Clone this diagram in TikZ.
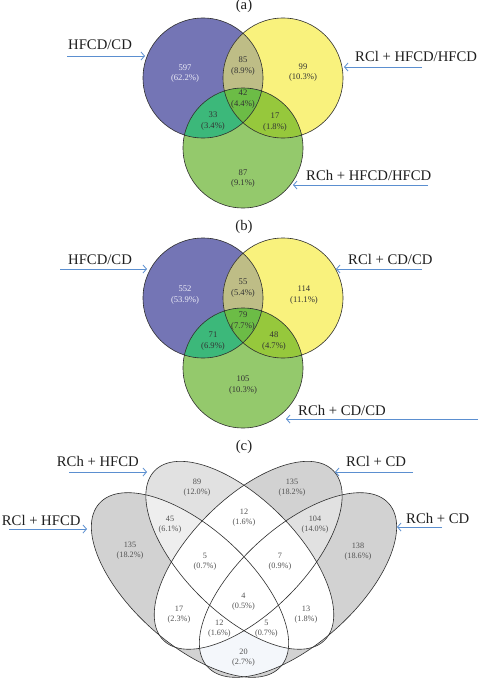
\documentclass[tikz,border=0pt]{standalone}
\usepackage{fontspec}
\setmainfont{Liberation Serif}
\usetikzlibrary{arrows.meta}
\definecolor{vblue}{HTML}{7475B5}
\definecolor{vyellow}{HTML}{F9F27D}
\definecolor{vgreen}{HTML}{94C96C}
\definecolor{vby}{HTML}{BEBD86}
\definecolor{vbg}{HTML}{3CB87A}
\definecolor{vyg}{HTML}{96C83C}
\definecolor{vbyg}{HTML}{6CBC46}
\definecolor{arrowblue}{HTML}{5B8FD0}
\definecolor{gdark}{HTML}{D2D2D2}
\definecolor{gmid}{HTML}{E1E1E1}
\definecolor{glight}{HTML}{EEEEEE}
\definecolor{gtint}{HTML}{F4F7FB}
\definecolor{numtext}{HTML}{333333}
\definecolor{numlight}{HTML}{EEEEF8}
\definecolor{edge}{HTML}{2E2E2E}

\tikzset{
  lbl/.style={font=\fontsize{14.7}{17}\selectfont, inner sep=0pt, text={black!88}},
  num/.style={font=\fontsize{8.6}{10.6}\selectfont, align=center, inner sep=0pt, text=numtext},
  numc/.style={font=\fontsize{8.2}{9.8}\selectfont, align=center, inner sep=0pt, text={black!68}},
  pointer/.style={draw=arrowblue, line width=0.8pt, -{Straight Barb[length=3.5pt,width=8pt]}},
  outline/.style={draw=edge, line width=0.6pt},
  rotA/.style={rotate around={-42:(190,585)}},
  rotB/.style={rotate around={-45:(239.8,555.3)}},
  rotC/.style={rotate around={45:(248.2,555.3)}},
  rotD/.style={rotate around={42:(298,585)}},
}
\newcommand{\PathEA}{(190,585) ellipse [x radius=122, y radius=58]}
\newcommand{\PathEB}{(239.8,555.3) ellipse [x radius=120, y radius=57]}
\newcommand{\PathEC}{(248.2,555.3) ellipse [x radius=120, y radius=57]}
\newcommand{\PathED}{(298,585) ellipse [x radius=122, y radius=58]}

\newcommand{\VennTri}[1]{%
  \fill[vblue] (#1B) circle[radius=60];
  \fill[vyellow] (#1Y) circle[radius=60];
  \fill[vgreen] (#1G) circle[radius=60];
  \begin{scope}
    \clip (#1Y) circle[radius=60];
    \fill[vyg] (#1G) circle[radius=60];
  \end{scope}
  \begin{scope}
    \clip (#1B) circle[radius=60];
    \fill[vby] (#1Y) circle[radius=60];
    \fill[vbg] (#1G) circle[radius=60];
    \clip (#1Y) circle[radius=60];
    \fill[vbyg] (#1G) circle[radius=60];
  \end{scope}
  \draw[outline] (#1B) circle[radius=60] (#1Y) circle[radius=60] (#1G) circle[radius=60];
}

\begin{document}
\begin{tikzpicture}[x=1pt,y=-1pt]
\useasboundingbox (0,0) rectangle (479,685);
\fill[white] (0,0) rectangle (479,685);

% ---------------- panel (a) ----------------
\coordinate (aB) at (203,78);
\coordinate (aY) at (283,78);
\coordinate (aG) at (243,148);
\VennTri{a}
\node[lbl, anchor=base] (ta) at (244,10) {(a)};
\node[num, text=numlight] (a597) at (185,73.5) {597\\(62.2\%)};
\node[num] (a85) at (243,66) {85\\(8.9\%)};
\node[num] (a99) at (303,72.5) {99\\(10.3\%)};
\node[num] (a42) at (243,99) {42\\(4.4\%)};
\node[num] (a33) at (213,121) {33\\(3.4\%)};
\node[num] (a17) at (275,122) {17\\(1.8\%)};
\node[num] (a87) at (243,178.5) {87\\(9.1\%)};
\node[lbl, anchor=base west] (la1) at (68,50) {HFCD/CD};
\node[lbl, anchor=base west] (la2) at (355,61.7) {RCl + HFCD/HFCD};
\node[lbl, anchor=base west] (la3) at (306,180) {RCh + HFCD/HFCD};
\coordinate (pa1s) at (67,56);   \coordinate (pa1e) at (145,56);
\coordinate (pa2s) at (422,67);  \coordinate (pa2e) at (344,67);
\coordinate (pa3s) at (428,185); \coordinate (pa3e) at (293,185);
\draw[pointer] (pa1s) -- (pa1e);
\draw[pointer] (pa2s) -- (pa2e);
\draw[pointer] (pa3s) -- (pa3e);

% ---------------- panel (b) ----------------
\coordinate (bB) at (203,298);
\coordinate (bY) at (283,298);
\coordinate (bG) at (243,368);
\VennTri{b}
\node[lbl, anchor=base] (tb) at (244,230.5) {(b)};
\node[num, text=numlight] (b552) at (185,295) {552\\(53.9\%)};
\node[num] (b55) at (243,288) {55\\(5.4\%)};
\node[num] (b114) at (304,295) {114\\(11.1\%)};
\node[num] (b79) at (243,321) {79\\(7.7\%)};
\node[num] (b71) at (213,341) {71\\(6.9\%)};
\node[num] (b48) at (274,341) {48\\(4.7\%)};
\node[num] (b105) at (243,385) {105\\(10.3\%)};
\node[lbl, anchor=base west] (lb1) at (68,264) {HFCD/CD};
\node[lbl, anchor=base west] (lb2) at (348,264) {RCl + CD/CD};
\node[lbl, anchor=base west] (lb3) at (298,415) {RCh + CD/CD};
\coordinate (pb1s) at (60,269);  \coordinate (pb1e) at (147,269);
\coordinate (pb2s) at (422,269); \coordinate (pb2e) at (336,269);
\coordinate (pb3s) at (478,419); \coordinate (pb3e) at (286,419);
\draw[pointer] (pb1s) -- (pb1e);
\draw[pointer] (pb2s) -- (pb2e);
\draw[pointer] (pb3s) -- (pb3e);

% ---------------- panel (c) ----------------
\fill[gdark, rotA] \PathEA;
\fill[gdark, rotC] \PathEC;
\fill[gdark, rotD] \PathED;
\fill[gmid, rotB] \PathEB;
\begin{scope}
  \clip[rotC] \PathEC;
  \fill[gmid, rotD] \PathED;
\end{scope}
\begin{scope}
  \clip[rotA] \PathEA;
  \fill[glight, rotB] \PathEB;
  \fill[gtint, rotD] \PathED;
  \fill[white, rotC] \PathEC;
\end{scope}
\begin{scope}
  \clip[rotB] \PathEB;
  \fill[white, rotC] \PathEC;
  \fill[white, rotD] \PathED;
\end{scope}
\draw[outline, rotA] \PathEA;
\draw[outline, rotB] \PathEB;
\draw[outline, rotC] \PathEC;
\draw[outline, rotD] \PathED;

\node[lbl, anchor=base] (tc) at (244,450.5) {(c)};
\node[numc] (c89) at (197,488) {89\\(12.0\%)};
\node[numc] (c135t) at (292,488) {135\\(18.2\%)};
\node[numc] (c45) at (170,524.3) {45\\(6.1\%)};
\node[numc] (c12t) at (244,518) {12\\(1.6\%)};
\node[numc] (c104) at (315,524.5) {104\\(14.0\%)};
\node[numc] (c135l) at (130,551) {135\\(18.2\%)};
\node[numc] (c138) at (358,551.5) {138\\(18.6\%)};
\node[numc] (c5l) at (205,561.5) {5\\(0.7\%)};
\node[numc] (c7) at (280,561.5) {7\\(0.9\%)};
\node[numc] (c17) at (179,614.7) {17\\(2.3\%)};
\node[numc] (c13) at (306,614.3) {13\\(1.8\%)};
\node[numc] (c4) at (243.5,601.7) {4\\(0.5\%)};
\node[numc] (c12b) at (219.3,628.3) {12\\(1.6\%)};
\node[numc] (c5b) at (266.3,628.3) {5\\(0.7\%)};
\node[numc] (c20) at (243.5,657.7) {20\\(2.7\%)};

\node[lbl, anchor=base west] (lc1) at (56.7,466.7) {RCh + HFCD};
\node[lbl, anchor=base west] (lc2) at (1.7,525) {RCl + HFCD};
\node[lbl, anchor=base west] (lc3) at (346,466.7) {RCl + CD};
\node[lbl, anchor=base west] (lc4) at (406,523.3) {RCh + CD};
\coordinate (pc1s) at (69,472);  \coordinate (pc1e) at (147,472);
\coordinate (pc2s) at (9,529);   \coordinate (pc2e) at (87,529);
\coordinate (pc3s) at (413,472); \coordinate (pc3e) at (335,472);
\coordinate (pc4s) at (442,527); \coordinate (pc4e) at (397,527);
\draw[pointer] (pc1s) -- (pc1e);
\draw[pointer] (pc2s) -- (pc2e);
\draw[pointer] (pc3s) -- (pc3e);
\draw[pointer] (pc4s) -- (pc4e);
\end{tikzpicture}
\end{document}
